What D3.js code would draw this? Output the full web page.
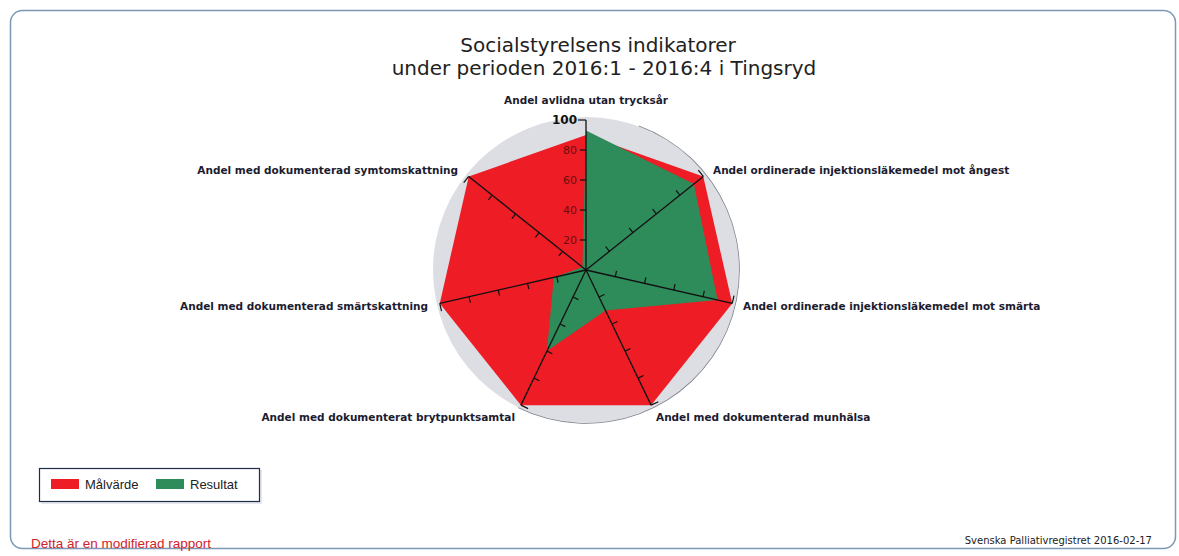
<!DOCTYPE html>
<html lang="sv">
<head>
  <meta charset="UTF-8" />
  <title>Socialstyrelsens indikatorer</title>
  <script src="https://d3js.org/d3.v7.min.js"></script>
  <style>
    body { margin: 0; background: #fff; }
    svg { display: block; }
  </style>
</head>
<body>
  <div id="chart"></div>

  <script>
    const indicators = [
      "Andel avlidna utan trycksår",
      "Andel ordinerade injektionsläkemedel mot ångest",
      "Andel ordinerade injektionsläkemedel mot smärta",
      "Andel med dokumenterad munhälsa",
      "Andel med dokumenterat brytpunktsamtal",
      "Andel med dokumenterad smärtskattning",
      "Andel med dokumenterad symtomskattning"
    ];
    const malvarde = [90, 100, 100, 100, 100, 100, 100];
    const resultat = [93, 92, 90, 30, 60, 22, 3];
    const ticks = [20, 40, 60, 80, 100];
    const seriesNames = ["Målvärde", "Resultat"];
    const seriesColors = ["#ee1c25", "#2e8b5a"];

    const width = 1179, height = 556;
    const cx = 586, cy = 270, R = 150;

    const svg = d3.select("#chart").append("svg").attr("width", width).attr("height", height);

    // frame
    svg.append("rect")
      .attr("x", 10.5).attr("y", 10.5).attr("width", 1165).attr("height", 538)
      .attr("rx", 12).attr("fill", "#fff").attr("stroke", "#7b98b4").attr("stroke-width", 1.5);

    // title
    const title = svg.append("text").attr("text-anchor", "middle")
      .style("font-family", "DejaVu Sans").style("font-size", "20px").style("fill", "#222");
    title.append("tspan").attr("x", 598).attr("y", 52).text("Socialstyrelsens indikatorer");
    title.append("tspan").attr("x", 604).attr("y", 75).text("under perioden 2016:1 - 2016:4 i Tingsryd");

    const r = d3.scaleLinear().domain([0, 100]).range([0, R]);
    const angle = d3.scalePoint().domain(d3.range(indicators.length)).range([0, 2 * Math.PI * (indicators.length - 1) / indicators.length]);

    const g = svg.append("g").attr("transform", `translate(${cx},${cy})`);

    // background disc
    g.append("circle").attr("r", R + 3).attr("fill", "#dddee4");
    g.append("path")
      .attr("d", d3.arc().innerRadius(R + 3).outerRadius(R + 3.8).startAngle(0.35).endAngle(3.6)())
      .attr("fill", "#7c7f8a");

    const radial = d3.lineRadial().angle((d, i) => angle(i)).radius(d => r(d)).curve(d3.curveLinearClosed);

    g.append("path").datum(malvarde).attr("d", radial).attr("fill", seriesColors[0]);
    g.append("path").datum(resultat).attr("d", radial).attr("fill", seriesColors[1]);

    // value labels on the first axis
    const tickLabels = g.append("g")
      .style("font-family", "DejaVu Sans").attr("text-anchor", "end");
    tickLabels.selectAll("text").data(ticks).enter().append("text")
      .attr("x", -9).attr("y", d => -r(d) + 4)
      .style("font-size", d => d === 100 ? "12px" : "11px")
      .style("fill", d => d === 100 ? "#111" : "#6b0d10")
      .style("font-weight", d => d === 100 ? "bold" : "normal")
      .text(d => d);

    // axes with ticks on the counter-clockwise side
    indicators.forEach((name, i) => {
      const a = angle(i);
      const ax = g.append("g").attr("transform", `rotate(${a * 180 / Math.PI})`);
      ax.append("line").attr("x1", 0).attr("y1", 0).attr("x2", 0).attr("y2", -R)
        .attr("stroke", "#111").attr("stroke-width", 1.3);
      ax.selectAll("line.tick").data(ticks).enter().append("line").attr("class", "tick")
        .attr("x1", 0).attr("x2", d => d === 100 ? -8 : -6)
        .attr("y1", d => -r(d)).attr("y2", d => -r(d))
        .attr("stroke", "#111").attr("stroke-width", 1.2);
    });

    // axis labels
    const labelPos = [
      { x: 586, y: 104, anchor: "middle" },
      { x: 713, y: 174, anchor: "start" },
      { x: 743, y: 310, anchor: "start" },
      { x: 656, y: 421, anchor: "start" },
      { x: 515, y: 421, anchor: "end" },
      { x: 428, y: 310, anchor: "end" },
      { x: 458, y: 174, anchor: "end" }
    ];
    svg.append("g").selectAll("text").data(indicators).enter().append("text")
      .attr("x", (d, i) => labelPos[i].x).attr("y", (d, i) => labelPos[i].y)
      .attr("text-anchor", (d, i) => labelPos[i].anchor)
      .style("font-family", "DejaVu Sans").style("font-weight", "bold")
      .style("font-size", "10.5px").style("fill", "#1c1c30")
      .text(d => d);

    // legend
    const legend = svg.append("g");
    legend.append("rect").attr("x", 41).attr("y", 470).attr("width", 221).attr("height", 34).attr("fill", "#e6e8ee");
    legend.append("rect").attr("x", 39.5).attr("y", 468.5).attr("width", 220).attr("height", 33)
      .attr("fill", "#fff").attr("stroke", "#1f2d4a").attr("stroke-width", 1.2);
    const legendX = d3.scaleOrdinal().domain(seriesNames).range([51, 156]);
    seriesNames.forEach((s, i) => {
      legend.append("rect").attr("x", legendX(s)).attr("y", 479).attr("width", 28).attr("height", 10).attr("fill", seriesColors[i]);
      legend.append("text").attr("x", legendX(s) + 34).attr("y", 489)
        .style("font-family", "Liberation Sans").style("font-size", "13px").style("fill", "#222").text(s);
    });

    // footer
    svg.append("text").attr("x", 31).attr("y", 548)
      .style("font-family", "Liberation Sans").style("font-size", "13.5px").style("fill", "#d2232a")
      .text("Detta är en modifierad rapport");
    svg.append("text").attr("x", 1152).attr("y", 544).attr("text-anchor", "end")
      .style("font-family", "DejaVu Sans").style("font-size", "10px").style("fill", "#222")
      .text("Svenska Palliativregistret 2016-02-17");
  </script>
</body>
</html>
